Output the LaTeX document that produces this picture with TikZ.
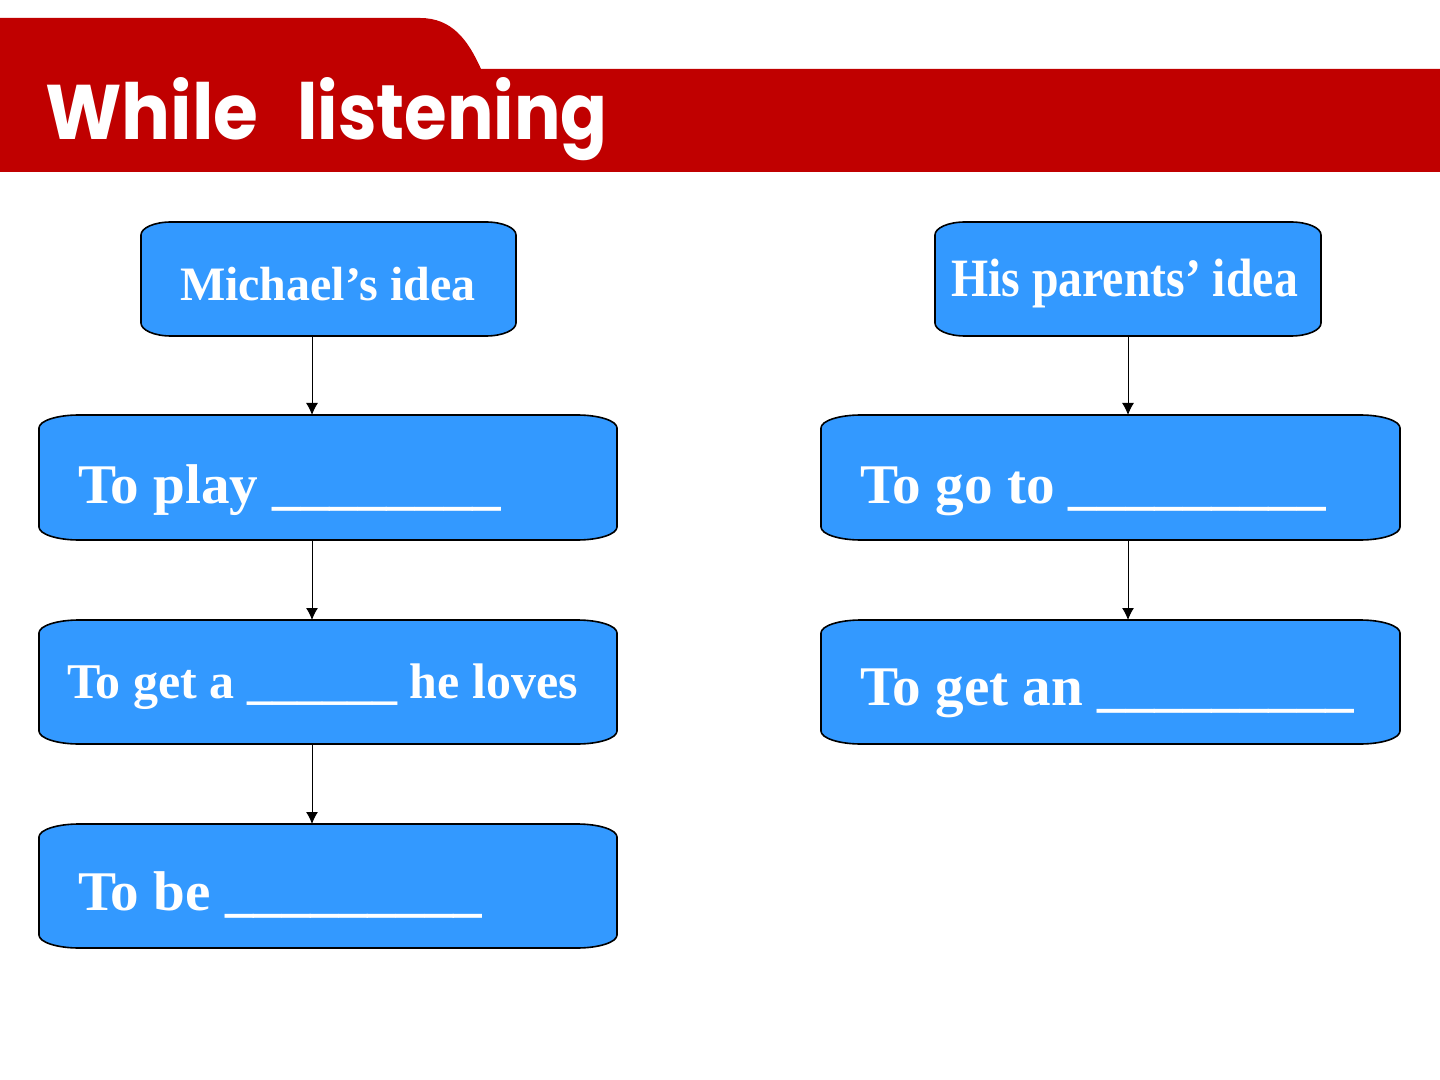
\documentclass[tikz,border=0pt]{standalone}
\usepackage{fontspec}
\usepackage{graphicx}
\setmainfont{Liberation Serif}
\newfontfamily\titlefont{Poppins}
\usetikzlibrary{arrows.meta,calc}
\definecolor{hdrred}{HTML}{C00000}
\definecolor{boxblue}{HTML}{3399FF}
\tikzset{
  boxshape/.style={draw=none,fill=none,inner sep=0pt,outer sep=0pt,rectangle},
  boxline/.style={fill=boxblue,draw=black,line width=0.8pt},
  lbl/.style={anchor=base west,inner sep=0pt,outer sep=0pt,text=white,font=\bfseries},
  arr/.style={draw=black,line width=0.5pt,-{Latex[length=6pt,width=6pt]}},
}
\newcommand\eboxdraw[3]{%
  \path[boxline] ([xshift=#2]#1.north west) -- ([xshift=-#2]#1.north east)
  .. controls ([xshift=-0.4477*#2]#1.north east) and ([yshift=-0.4477*#3]#1.north east) .. ([yshift=-#3]#1.north east)
  -- ([yshift=#3]#1.south east)
  .. controls ([yshift=0.4477*#3]#1.south east) and ([xshift=-0.4477*#2]#1.south east) .. ([xshift=-#2]#1.south east)
  -- ([xshift=#2]#1.south west)
  .. controls ([xshift=0.4477*#2]#1.south west) and ([yshift=0.4477*#3]#1.south west) .. ([yshift=#3]#1.south west)
  -- ([yshift=-#3]#1.north west)
  .. controls ([yshift=-0.4477*#3]#1.north west) and ([xshift=0.4477*#2]#1.north west) .. ([xshift=#2]#1.north west) -- cycle;}
\begin{document}
\begin{tikzpicture}[x=0.5pt,y=-0.5pt]
\useasboundingbox (0,0) rectangle (1440,1080);
\fill[white] (0,0) rectangle (1440,1080);
% header band
\fill[hdrred] (0,18) -- (420,18) .. controls (452,18) and (468,40) .. (481,69)
  -- (1440,69) -- (1440,172) -- (0,172) -- cycle;
\node[anchor=base west,inner sep=0pt,text=white] (title) at (45,140)
  {\titlefont\bfseries\resizebox{106.5pt}{31pt}{While}\hspace{19.5pt}\resizebox{155pt}{31pt}{listening}};
% boxes
\node[boxshape,minimum width=187.5pt,minimum height=57pt] (m) at (328.5,279) {};
\node[boxshape,minimum width=193pt,minimum height=57pt] (hp) at (1128,279) {};
\node[boxshape,minimum width=289pt,minimum height=62.5pt] (p1) at (328,477.5) {};
\node[boxshape,minimum width=289.5pt,minimum height=62.5pt] (q1) at (1110.5,477.5) {};
\node[boxshape,minimum width=289pt,minimum height=62pt] (p2) at (328,682) {};
\node[boxshape,minimum width=289.5pt,minimum height=62pt] (q2) at (1110.5,682) {};
\node[boxshape,minimum width=289pt,minimum height=62pt] (p3) at (328,886) {};
\eboxdraw{m}{15pt}{6.5pt}
\eboxdraw{hp}{15pt}{6.5pt}
\eboxdraw{p1}{20pt}{6.5pt}
\eboxdraw{q1}{20pt}{6.5pt}
\eboxdraw{p2}{20pt}{6.5pt}
\eboxdraw{q2}{20pt}{6.5pt}
\eboxdraw{p3}{20pt}{6.5pt}
% labels
\node[lbl,font=\bfseries\fontsize{24}{28}\selectfont] (tm) at (180,301) {Michael’s idea};
\node[lbl] (thp) at (951,297) {\scalebox{0.885}[1]{\bfseries\fontsize{27}{32}\selectfont His parents’ idea}};
\node[lbl] (tp1) at (78,503) {\scalebox{1.02}[1]{\bfseries\fontsize{28}{33}\selectfont To play \_\_\_\_\_\_\_\_}};
\node[lbl] (tq1) at (860,503) {\scalebox{1.02}[1]{\bfseries\fontsize{28}{33}\selectfont To go to \_\_\_\_\_\_\_\_\_}};
\node[lbl,font=\bfseries\fontsize{25}{30}\selectfont] (tp2) at (67,698) {To get a \_\_\_\_\_\_ he loves};
\node[lbl] (tq2) at (860,705) {\scalebox{1.02}[1]{\bfseries\fontsize{28}{33}\selectfont To get an \_\_\_\_\_\_\_\_\_}};
\node[lbl] (tp3) at (78,910) {\scalebox{1.02}[1]{\bfseries\fontsize{28}{33}\selectfont To be \_\_\_\_\_\_\_\_\_}};
% connectors
\coordinate (la) at (312,0);
\coordinate (ra) at (1128,0);
\draw[arr] (m.south -| la) -- (p1.north -| la);
\draw[arr] (p1.south -| la) -- (p2.north -| la);
\draw[arr] (p2.south -| la) -- (p3.north -| la);
\draw[arr] (hp.south -| ra) -- (q1.north -| ra);
\draw[arr] (q1.south -| ra) -- (q2.north -| ra);
\end{tikzpicture}
\end{document}
